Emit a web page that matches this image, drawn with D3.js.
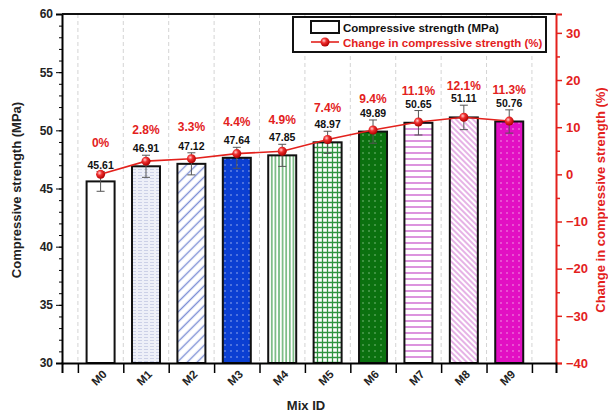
<!DOCTYPE html>
<html>
<head>
<meta charset="utf-8">
<script src="https://cdn.jsdelivr.net/npm/d3@7/dist/d3.min.js"></script>
<style>
  body { margin: 0; background: #fff; }
  text { font-family: "Liberation Sans", Arial, sans-serif; font-weight: bold; }
</style>
</head>
<body>
<div id="chart"></div>
<script>
// Data
const mixIds = ["M0", "M1", "M2", "M3", "M4", "M5", "M6", "M7", "M8", "M9"];
const strength = [45.61, 46.91, 47.12, 47.64, 47.85, 48.97, 49.89, 50.65, 51.11, 50.76];
const strengthErr = [0.85, 0.95, 0.95, 0.9, 0.95, 0.95, 1.0, 1.05, 1.05, 1.0];
const changePct = [0, 2.8, 3.3, 4.4, 4.9, 7.4, 9.4, 11.1, 12.1, 11.3];
const leftTicks = [30, 35, 40, 45, 50, 55, 60];
const rightTicks = [-40, -30, -20, -10, 0, 10, 20, 30];
const fills = ["#ffffff", "url(#p1)", "url(#p2)", "url(#p3)", "url(#p4)", "url(#p5)", "url(#p6)", "url(#p7)", "url(#p8)", "url(#p9)"];

const width = 608;
const height = 412;
const red = "#e3211c";

const svg = d3.select("#chart").append("svg")
  .attr("width", width)
  .attr("height", height);

const defs = svg.append("defs");

// hatch / fill patterns
function pattern(id, w, h, bg) {
  const p = defs.append("pattern").attr("id", id)
    .attr("patternUnits", "userSpaceOnUse")
    .attr("width", w).attr("height", h);
  p.append("rect").attr("width", w).attr("height", h).attr("fill", bg);
  return p;
}

// M1: light grey-blue with fine horizontal dashes
let p = pattern("p1", 6, 3, "#eef0f8");
p.append("line").attr("x1", 0).attr("x2", 4).attr("y1", 1.5).attr("y2", 1.5).attr("stroke", "#c3c9e2").attr("stroke-width", 0.8);
// M2: diagonal blue lines
p = pattern("p2", 7, 7, "#ffffff").attr("patternTransform", "rotate(-45)");
p.append("line").attr("x1", 0).attr("x2", 7).attr("y1", 3.5).attr("y2", 3.5).attr("stroke", "#7d8fd6").attr("stroke-width", 1.4);
// M3: blue with dots
p = pattern("p3", 6, 6, "#0b3fd2");
p.append("circle").attr("cx", 3).attr("cy", 3).attr("r", 0.8).attr("fill", "#9fb4f0");
// M4: green vertical lines
p = pattern("p4", 3.6, 4, "#ffffff");
p.append("line").attr("x1", 1.8).attr("x2", 1.8).attr("y1", 0).attr("y2", 4).attr("stroke", "#3d9e4c").attr("stroke-width", 1.2);
// M5: green grid
p = pattern("p5", 5, 5, "#ffffff");
p.append("path").attr("d", "M2.5,0V5M0,2.5H5").attr("stroke", "#2f9440").attr("stroke-width", 1.3);
// M6: dark green with dots
p = pattern("p6", 6, 6, "#0b710f");
p.append("circle").attr("cx", 3).attr("cy", 3).attr("r", 0.8).attr("fill", "#7fbf80");
// M7: magenta horizontal lines
p = pattern("p7", 4, 6, "#ffffff");
p.append("line").attr("x1", 0).attr("x2", 4).attr("y1", 3).attr("y2", 3).attr("stroke", "#d379d6").attr("stroke-width", 1.6);
// M8: magenta back-diagonal lines
p = pattern("p8", 4, 4, "#ffffff").attr("patternTransform", "rotate(45)");
p.append("line").attr("x1", 0).attr("x2", 4).attr("y1", 2).attr("y2", 2).attr("stroke", "#d98ad9").attr("stroke-width", 1.3);
// M9: magenta with dots
p = pattern("p9", 6, 6, "#e20fc3");
p.append("circle").attr("cx", 3).attr("cy", 3).attr("r", 0.8).attr("fill", "#f3a0e6");

// glossy marker
const grad = defs.append("radialGradient").attr("id", "ball")
  .attr("cx", "38%").attr("cy", "35%").attr("r", "65%");
grad.append("stop").attr("offset", "0%").attr("stop-color", "#ffd0d0");
grad.append("stop").attr("offset", "40%").attr("stop-color", "#f03030");
grad.append("stop").attr("offset", "100%").attr("stop-color", "#b00000");

// Scales
const x = d3.scaleLinear().domain([-0.85, 10.03]).range([62, 556]);
const y = d3.scaleLinear().domain([30, 60]).range([363, 14]);
const y2 = d3.scaleLinear().domain([-40, 34]).range([363, 14]);
const barW = 28;

// dashed vertical grid at category boundaries
const bounds = d3.range(11).map((i) => i - 0.5);
svg.append("g").selectAll("line").data(bounds).join("line")
  .attr("x1", (d) => x(d)).attr("x2", (d) => x(d))
  .attr("y1", 14).attr("y2", 363)
  .attr("stroke", "#d4d4d4").attr("stroke-width", 1)
  .attr("stroke-dasharray", "4,3");

// Bars
svg.append("g").selectAll("rect").data(strength).join("rect")
  .attr("x", (d, i) => x(i) - barW / 2)
  .attr("y", (d) => y(d))
  .attr("width", barW)
  .attr("height", (d) => y(30) - y(d))
  .attr("fill", (d, i) => fills[i])
  .attr("stroke", "#111")
  .attr("stroke-width", 2);

// Error bars
const err = svg.append("g").attr("stroke", "#555").attr("stroke-width", 1);
strength.forEach((d, i) => {
  const lo = y(d - strengthErr[i]);
  const hi = y(d + strengthErr[i]);
  err.append("line").attr("x1", x(i)).attr("x2", x(i)).attr("y1", lo).attr("y2", hi);
  err.append("line").attr("x1", x(i) - 4).attr("x2", x(i) + 4).attr("y1", lo).attr("y2", lo);
  err.append("line").attr("x1", x(i) - 4).attr("x2", x(i) + 4).attr("y1", hi).attr("y2", hi);
});

// Value labels
svg.append("g").selectAll("text").data(strength).join("text")
  .attr("x", (d, i) => x(i))
  .attr("y", (d, i) => y(d + strengthErr[i]) - 3)
  .attr("text-anchor", "middle")
  .attr("font-size", 10.5)
  .attr("fill", "#111")
  .text((d) => d.toFixed(2));

// Change line
const line = d3.line().x((d, i) => x(i)).y((d) => y2(d));
svg.append("path").datum(changePct)
  .attr("d", line)
  .attr("fill", "none")
  .attr("stroke", red)
  .attr("stroke-width", 1.6);

svg.append("g").selectAll("circle").data(changePct).join("circle")
  .attr("cx", (d, i) => x(i))
  .attr("cy", (d) => y2(d))
  .attr("r", 4.5)
  .attr("fill", "url(#ball)");

svg.append("g").selectAll("text").data(changePct).join("text")
  .attr("x", (d, i) => x(i))
  .attr("y", (d) => y2(d) - 27.5)
  .attr("text-anchor", "middle")
  .attr("font-size", 12)
  .attr("fill", red)
  .text((d) => d + "%");

// Left axis
const leftAxis = svg.append("g").attr("transform", "translate(62,0)")
  .call(d3.axisLeft(y).tickValues(leftTicks).tickSize(6).tickPadding(3));
svg.append("g").attr("transform", "translate(62,0)")
  .call(d3.axisLeft(y).tickValues(d3.range(30, 61, 1)).tickSize(3).tickFormat(""))
  .call((g) => g.select(".domain").remove());
leftAxis.select(".domain").attr("stroke-width", 2);
leftAxis.selectAll("text").attr("font-size", 12).attr("fill", "#222");

// Right axis
const rightAxis = svg.append("g").attr("transform", "translate(556,0)")
  .call(d3.axisRight(y2).tickValues(rightTicks).tickSize(6).tickPadding(4).tickFormat(d3.format("d")));
svg.append("g").attr("transform", "translate(556,0)")
  .call(d3.axisRight(y2).tickValues(d3.range(-35, 34, 10)).tickSize(4).tickFormat(""))
  .call((g) => g.select(".domain").remove())
  .selectAll("line").attr("stroke", red).attr("stroke-width", 1.5);
rightAxis.select(".domain").attr("stroke", red).attr("stroke-width", 2);
rightAxis.selectAll(".tick line").attr("stroke", red).attr("stroke-width", 1.5);
rightAxis.selectAll("text").attr("font-size", 13).attr("fill", red);

// Bottom axis
const bottomAxis = svg.append("g").attr("transform", "translate(0,363)")
  .call(d3.axisBottom(x).tickValues(bounds).tickSize(10).tickFormat(""));
bottomAxis.select(".domain").attr("stroke-width", 2);
bottomAxis.selectAll(".tick line").attr("stroke-width", 1.5);
svg.append("g").selectAll("text").data(mixIds).join("text")
  .attr("transform", (d, i) => `translate(${x(i) + 4},${372}) rotate(-45)`)
  .attr("text-anchor", "end")
  .attr("dy", "0.35em")
  .attr("font-size", 11.5)
  .attr("fill", "#222")
  .text((d) => d);

// top frame
svg.append("line").attr("x1", 62).attr("x2", 556).attr("y1", 14).attr("y2", 14)
  .attr("stroke", "#111").attr("stroke-width", 2);

// Axis titles
svg.append("text")
  .attr("transform", "translate(21,190) rotate(-90)")
  .attr("text-anchor", "middle")
  .attr("font-size", 13)
  .attr("fill", "#222")
  .text("Compressive strength (MPa)");
svg.append("text")
  .attr("transform", "translate(605,200) rotate(-90)")
  .attr("text-anchor", "middle")
  .attr("font-size", 13)
  .attr("fill", red)
  .text("Change in compressive strength (%)");
svg.append("text")
  .attr("x", 306).attr("y", 410)
  .attr("text-anchor", "middle")
  .attr("font-size", 13)
  .attr("fill", "#222")
  .text("Mix ID");

// Legend
const legend = svg.append("g").attr("transform", "translate(293,17)");
legend.append("rect").attr("width", 253).attr("height", 35)
  .attr("fill", "#fff").attr("stroke", "#111").attr("stroke-width", 2);
legend.append("rect").attr("x", 18).attr("y", 4).attr("width", 28).attr("height", 12)
  .attr("fill", "#fff").attr("stroke", "#111").attr("stroke-width", 2);
legend.append("text").attr("x", 50).attr("y", 14.5).attr("font-size", 11.5).attr("fill", "#111")
  .text("Compressive strength (MPa)");
legend.append("line").attr("x1", 18).attr("x2", 46).attr("y1", 25).attr("y2", 25)
  .attr("stroke", red).attr("stroke-width", 1.6);
legend.append("circle").attr("cx", 32).attr("cy", 25).attr("r", 4.5).attr("fill", "url(#ball)");
legend.append("text").attr("x", 50).attr("y", 29.5).attr("font-size", 11.5).attr("fill", red)
  .text("Change in compressive strength (%)");
</script>
</body>
</html>
